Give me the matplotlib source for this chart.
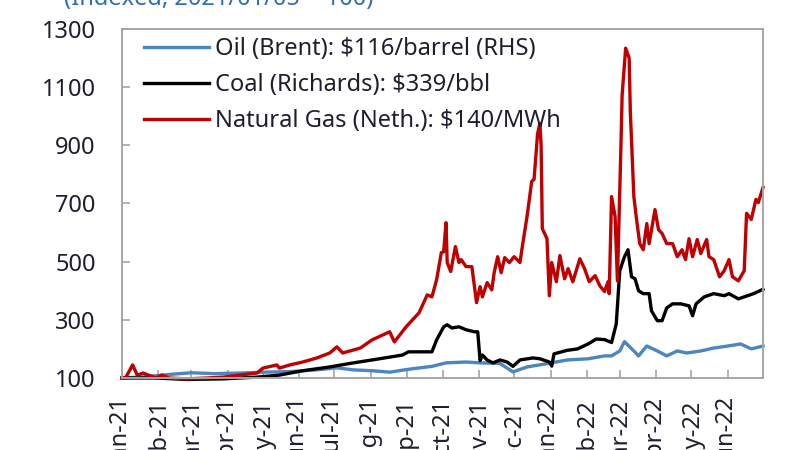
#!/usr/bin/env python3

import pandas
import matplotlib
matplotlib.use("Agg")
import matplotlib.pyplot as plt


# Natural Gas (Neth.), indexed
GAS_DATES = [
    "2021-01-04", "2021-01-07", "2021-01-13", "2021-01-17", "2021-01-22", "2021-02-02",
    "2021-02-07", "2021-02-13", "2021-02-28", "2021-03-17", "2021-03-31", "2021-04-14",
    "2021-04-29", "2021-05-04", "2021-05-16", "2021-05-18", "2021-05-27", "2021-06-07",
    "2021-06-19", "2021-06-30", "2021-07-06", "2021-07-11", "2021-07-26", "2021-08-05",
    "2021-08-20", "2021-08-24", "2021-09-03", "2021-09-14", "2021-09-21", "2021-09-25",
    "2021-09-29", "2021-10-03", "2021-10-05", "2021-10-07", "2021-10-08", "2021-10-11",
    "2021-10-15", "2021-10-18", "2021-10-20", "2021-10-24", "2021-10-29", "2021-11-02",
    "2021-11-05", "2021-11-07", "2021-11-11", "2021-11-15", "2021-11-17", "2021-11-20",
    "2021-11-23", "2021-11-26", "2021-11-30", "2021-12-04", "2021-12-09", "2021-12-11",
    "2021-12-15", "2021-12-19", "2021-12-21", "2021-12-24", "2021-12-26", "2021-12-27",
    "2021-12-28", "2022-01-01", "2022-01-03", "2022-01-05", "2022-01-09", "2022-01-12",
    "2022-01-16", "2022-01-19", "2022-01-23", "2022-01-29", "2022-02-02", "2022-02-06",
    "2022-02-11", "2022-02-15", "2022-02-19", "2022-02-22", "2022-02-23", "2022-02-25",
    "2022-02-28", "2022-03-02", "2022-03-05", "2022-03-06", "2022-03-09", "2022-03-12",
    "2022-03-13", "2022-03-16", "2022-03-18", "2022-03-21", "2022-03-24", "2022-03-27",
    "2022-03-29", "2022-04-03", "2022-04-06", "2022-04-09", "2022-04-13", "2022-04-18",
    "2022-04-22", "2022-04-26", "2022-04-29", "2022-05-02", "2022-05-05", "2022-05-09",
    "2022-05-12", "2022-05-17", "2022-05-19", "2022-05-23", "2022-05-28", "2022-06-01",
    "2022-06-05", "2022-06-08", "2022-06-13", "2022-06-15", "2022-06-18", "2022-06-20",
    "2022-06-24", "2022-06-28", "2022-06-30", "2022-07-04",
]
GAS = [
    100, 100, 145, 110, 117, 100,
    110, 100, 97, 100, 103, 110,
    117, 134, 145, 134, 145, 155,
    169, 186, 207, 186, 203, 231,
    259, 224, 276, 324, 386, 379,
    438, 531, 534, 634, 497, 466,
    552, 497, 507, 483, 483, 359,
    414, 379, 428, 403, 462, 517,
    462, 514, 497, 517, 497, 552,
    655, 776, 783, 940, 975, 900,
    614, 579, 383, 497, 431, 521,
    441, 476, 431, 510, 476, 431,
    452, 417, 397, 431, 390, 724,
    655, 434, 900, 1072, 1234, 1200,
    1014, 724, 655, 562, 541, 631,
    562, 679, 610, 597, 562, 562,
    517, 541, 507, 579, 517, 576,
    528, 576, 517, 507, 448, 469,
    507, 448, 434, 448, 469, 666,
    645, 714, 703, 755,
]

# Coal (Richards), indexed
COAL_DATES = [
    "2021-01-04", "2021-02-02", "2021-02-28", "2021-03-31", "2021-04-29", "2021-05-18",
    "2021-06-07", "2021-06-30", "2021-07-20", "2021-08-05", "2021-08-31", "2021-09-05",
    "2021-09-25", "2021-09-29", "2021-10-05", "2021-10-08", "2021-10-12", "2021-10-18",
    "2021-10-24", "2021-10-31", "2021-11-03", "2021-11-05", "2021-11-07", "2021-11-11",
    "2021-11-16", "2021-11-22", "2021-11-28", "2021-12-03", "2021-12-09", "2021-12-20",
    "2021-12-26", "2022-01-03", "2022-01-05", "2022-01-07", "2022-01-18", "2022-01-27",
    "2022-02-05", "2022-02-12", "2022-02-19", "2022-02-25", "2022-03-01", "2022-03-04",
    "2022-03-08", "2022-03-11", "2022-03-14", "2022-03-17", "2022-03-20", "2022-03-24",
    "2022-03-29", "2022-03-31", "2022-04-05", "2022-04-09", "2022-04-13", "2022-04-18",
    "2022-04-25", "2022-05-02", "2022-05-05", "2022-05-08", "2022-05-15", "2022-05-23",
    "2022-06-01", "2022-06-05", "2022-06-13", "2022-06-18", "2022-06-26", "2022-07-04",
]
COAL = [
    100, 100, 95, 97, 103, 110,
    125, 138, 152, 162, 179, 190,
    190, 231, 276, 283, 272, 276,
    266, 259, 259, 160, 179, 162,
    152, 162, 155, 140, 162, 169,
    166, 155, 141, 183, 195, 200,
    217, 234, 232, 222, 286, 469,
    517, 541, 448, 441, 400, 390,
    390, 331, 297, 297, 341, 355,
    355, 348, 314, 355, 379, 390,
    383, 390, 372, 379, 390, 405,
]

# Oil (Brent), indexed (RHS)
OIL_DATES = [
    "2021-01-04", "2021-01-22", "2021-02-13", "2021-03-04", "2021-03-24", "2021-04-14",
    "2021-05-04", "2021-05-27", "2021-06-19", "2021-07-06", "2021-07-20", "2021-08-05",
    "2021-08-20", "2021-09-05", "2021-09-25", "2021-10-07", "2021-10-24", "2021-11-05",
    "2021-11-22", "2021-12-03", "2021-12-15", "2022-01-05", "2022-01-18", "2022-02-05",
    "2022-02-19", "2022-02-25", "2022-03-04", "2022-03-08", "2022-03-16", "2022-03-20",
    "2022-03-27", "2022-04-05", "2022-04-13", "2022-04-22", "2022-04-30", "2022-05-12",
    "2022-05-23", "2022-06-04", "2022-06-15", "2022-06-24", "2022-07-04",
]
OIL = [
    100, 104, 112, 118, 115, 117,
    120, 122, 128, 135, 128, 125,
    120, 130, 140, 152, 155, 152,
    150, 121, 138, 152, 162, 166,
    176, 176, 193, 225, 193, 176,
    210, 193, 176, 193, 186, 193,
    203, 210, 217, 200, 210,
]

LABELS = [
    "Oil (Brent): $116/barrel (RHS)",
    "Coal (Richards): $339/bbl",
    "Natural Gas (Neth.): $140/MWh",
]
YTICKS = [100, 300, 500, 700, 900, 1100, 1300]
MONTHS = [
    "Jan-21", "Feb-21", "Mar-21", "Apr-21", "May-21", "Jun-21", "Jul-21", "Aug-21",
    "Sep-21", "Oct-21", "Nov-21", "Dec-21", "Jan-22", "Feb-22", "Mar-22", "Apr-22",
    "May-22", "Jun-22",
]


if __name__ == "__main__":
    plt.rcParams["font.family"] = ["Noto Sans", "DejaVu Sans"]
    txt = "#1e1e2e"
    grey = "#a6a6a6"

    fig = plt.figure(figsize=(8, 4.5), dpi=100)
    ax = fig.add_axes([0.1525, 0.16, 0.80125, 0.7756])

    series = [
        (OIL_DATES, OIL, "#4a86bf"),
        (COAL_DATES, COAL, "#000000"),
        (GAS_DATES, GAS, "#c00000"),
    ]
    for (dates, vals, color), label in zip(series, LABELS):
        ax.plot(pandas.to_datetime(dates), vals, color=color, lw=2.4,
                label=label, clip_on=False, solid_joinstyle="round")

    start = pandas.Timestamp("2021-01-04")
    ticks = [start + pandas.DateOffset(months=i) for i in range(len(MONTHS) + 1)]

    ax.set_ylim(100, 1300)
    ax.set_yticks(YTICKS)
    ax.set_xlim(ticks[0], ticks[-1])
    ax.set_xticks(ticks)
    ax.set_xticklabels(MONTHS + [""])

    for s in ax.spines.values():
        s.set_color(grey)
        s.set_linewidth(1.4)

    ax.tick_params(axis="y", direction="in", length=6, color=grey, width=1.2,
                   pad=19, labelsize=17, labelcolor=txt)
    ax.tick_params(axis="x", direction="in", length=6, color=grey, width=1.2,
                   pad=14.5, labelsize=17, labelcolor=txt, labelrotation=90)

    ax.legend(loc="upper left", bbox_to_anchor=(0.012, 1.018), frameon=False,
              fontsize=17, handlelength=2.75, handletextpad=0.25,
              labelspacing=0.52, borderaxespad=0.2, labelcolor=txt)

    fig.text(64 / 800, 1 - 5 / 450, "(Indexed, 2021/01/05 = 100)",
             color="#2f6db5", fontsize=17, va="baseline", ha="left")

    fig.savefig("out.png", dpi=100)
